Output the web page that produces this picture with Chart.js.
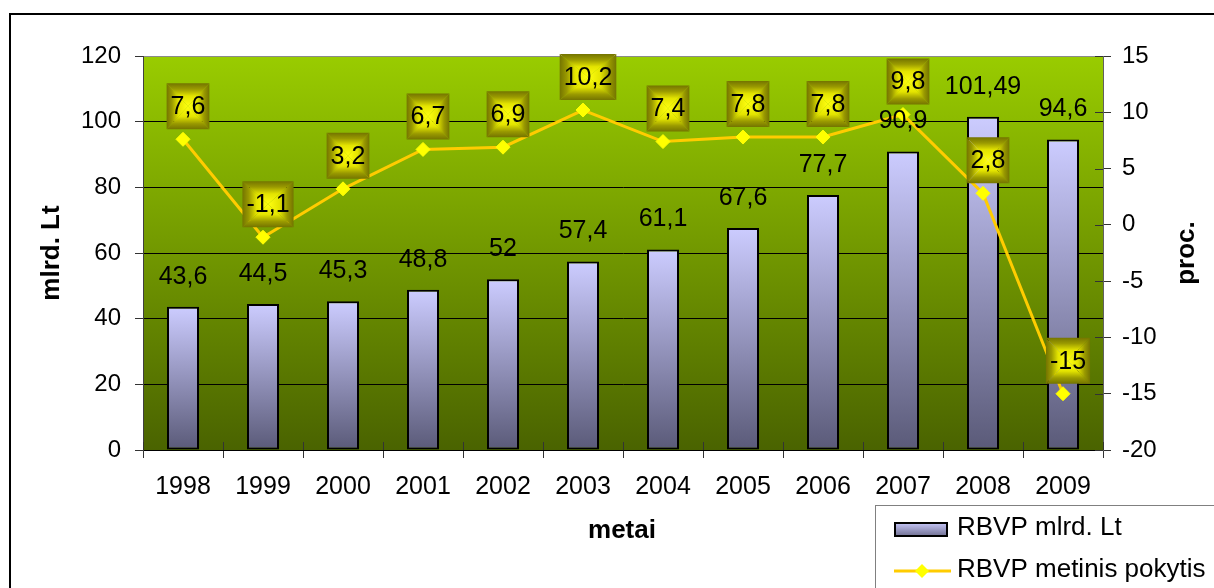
<!DOCTYPE html>
<html>
<head>
<meta charset="utf-8">
<script src="https://cdn.jsdelivr.net/npm/chart.js@4.4.0/dist/chart.umd.min.js"></script>
<style>
html, body { margin: 0; padding: 0; background: #fff; }
#wrap { width: 1214px; height: 588px; position: relative; }
</style>
</head>
<body>
<div id="wrap"><canvas id="gdpChart" width="1214" height="588"></canvas></div>
<script>
// data
const years = ['1998', '1999', '2000', '2001', '2002', '2003', '2004', '2005', '2006', '2007', '2008', '2009'];
const gdpValues = [43.6, 44.5, 45.3, 48.8, 52, 57.4, 61.1, 67.6, 77.7, 90.9, 101.49, 94.6];
const growthValues = [7.6, -1.1, 3.2, 6.7, 6.9, 10.2, 7.4, 7.8, 7.8, 9.8, 2.8, -15];
const leftTicks = [0, 20, 40, 60, 80, 100, 120];
const rightTicks = [-20, -15, -10, -5, 0, 5, 10, 15];

const FONT = '"Liberation Sans", Arial, sans-serif';
Chart.defaults.font.family = FONT;
Chart.defaults.font.size = 24;
Chart.defaults.color = '#000';

const fmt = v => String(v).replace('.', ',');

// lavender bar fill, light at the top of each bar and dark at the base
function barFill(context) {
    const chart = context.chart;
    const y = chart.scales.y;
    if (!chart.chartArea || !y || context.parsed === undefined) return '#9999c0';
    const top = y.getPixelForValue(context.parsed.y);
    const base = y.getPixelForValue(0);
    const g = chart.ctx.createLinearGradient(0, top, 0, base);
    g.addColorStop(0, '#ccccff');
    g.addColorStop(1, '#5a5a78');
    return g;
}

function bevelBox(ctx, x, y, w, h) {
    const cx = x + w / 2, cy = y + h / 2;
    const sides = [
        [[x, y], [x + w, y], [cx, y]],
        [[x + w, y], [x + w, y + h], [x + w, cy]],
        [[x + w, y + h], [x, y + h], [cx, y + h]],
        [[x, y + h], [x, y], [x, cy]]
    ];
    sides.forEach(s => {
        const g = ctx.createLinearGradient(s[2][0], s[2][1], cx, cy);
        g.addColorStop(0, '#747400');
        g.addColorStop(0.25, '#9a9a00');
        g.addColorStop(0.55, '#e4e400');
        g.addColorStop(1, '#ffff10');
        ctx.beginPath();
        ctx.moveTo(s[0][0], s[0][1]);
        ctx.lineTo(s[1][0], s[1][1]);
        ctx.lineTo(cx, cy);
        ctx.closePath();
        ctx.fillStyle = g;
        ctx.fill();
    });
}

const chartDecor = {
    id: 'chartDecor',
    beforeDraw(chart) {
        const { ctx, chartArea: a } = chart;
        const g = ctx.createLinearGradient(0, a.top, 0, a.bottom);
        g.addColorStop(0, '#99cc00');
        g.addColorStop(1, '#4a6300');
        ctx.save();
        ctx.fillStyle = g;
        ctx.fillRect(a.left, a.top, a.right - a.left, a.bottom - a.top);
        ctx.restore();
    },
    afterDatasetsDraw(chart) {
        const ctx = chart.ctx;
        ctx.save();
        ctx.font = '25px ' + FONT;
        ctx.fillStyle = '#000';
        ctx.textAlign = 'center';
        ctx.textBaseline = 'middle';

        // value labels above the bars
        chart.getDatasetMeta(0).data.forEach((bar, i) => {
            ctx.fillText(fmt(gdpValues[i]), bar.x, bar.y - 30);
        });

        // boxed labels above the line points
        chart.getDatasetMeta(1).data.forEach((pt, i) => {
            const text = fmt(growthValues[i]);
            const w = ctx.measureText(text).width + 8;
            const h = 46;
            const cx = pt.x + 5, cy = pt.y - 33;
            bevelBox(ctx, cx - w / 2, cy - h / 2, w, h);
            ctx.fillStyle = '#000';
            ctx.fillText(text, cx, cy + 1);
        });
        ctx.restore();
    },
    afterDraw(chart) {
        const { ctx, chartArea: a, scales } = chart;
        ctx.save();

        // tick halves reaching into the plot
        ctx.strokeStyle = '#333';
        ctx.lineWidth = 1;
        ctx.beginPath();
        for (let i = 0; i <= years.length; i++) {
            const x = Math.round(scales.x.getPixelForValue(i - 0.5)) + 0.5;
            ctx.moveTo(x, a.bottom);
            ctx.lineTo(x, a.bottom - 8);
        }
        rightTicks.forEach(v => {
            const y = Math.round(scales.y2.getPixelForValue(v)) + 0.5;
            ctx.moveTo(a.right, y);
            ctx.lineTo(a.right - 8, y);
        });
        ctx.stroke();

        // axis titles
        ctx.font = 'bold 26px ' + FONT;
        ctx.fillStyle = '#000';
        ctx.textAlign = 'center';
        ctx.textBaseline = 'middle';
        ctx.fillText('metai', 622, 531);
        ctx.save();
        ctx.translate(52, 253);
        ctx.rotate(-Math.PI / 2);
        ctx.fillText('mlrd. Lt', 0, 0);
        ctx.restore();
        ctx.save();
        ctx.translate(1187, 253);
        ctx.rotate(-Math.PI / 2);
        ctx.fillText('proc.', 0, 0);
        ctx.restore();

        // legend box
        const ds = chart.data.datasets;
        ctx.strokeStyle = '#808080';
        ctx.lineWidth = 1;
        ctx.strokeRect(875.5, 505.5, 500, 200);

        const sg = ctx.createLinearGradient(0, 522, 0, 537);
        sg.addColorStop(0, '#ccccff');
        sg.addColorStop(1, '#6a6a8a');
        ctx.fillStyle = sg;
        ctx.fillRect(894, 522, 54, 15);
        ctx.strokeStyle = '#000';
        ctx.lineWidth = 2;
        ctx.strokeRect(895, 523, 52, 13);

        ctx.strokeStyle = '#ffcc00';
        ctx.lineWidth = 3;
        ctx.beginPath();
        ctx.moveTo(894, 571);
        ctx.lineTo(951, 571);
        ctx.stroke();
        ctx.fillStyle = '#ffff00';
        ctx.beginPath();
        ctx.moveTo(922, 564);
        ctx.lineTo(929, 571);
        ctx.lineTo(922, 578);
        ctx.lineTo(915, 571);
        ctx.closePath();
        ctx.fill();

        ctx.font = '26px ' + FONT;
        ctx.fillStyle = '#000';
        ctx.textAlign = 'left';
        ctx.fillText(ds[0].label, 957, 528);
        ctx.fillText(ds[1].label, 957, 570);

        // outer chart frame
        ctx.strokeStyle = '#000';
        ctx.lineWidth = 2;
        ctx.strokeRect(10, 14, 1400, 800);
        ctx.restore();
    }
};

const ctx = document.getElementById('gdpChart').getContext('2d');
new Chart(ctx, {
    data: {
        labels: years,
        datasets: [{
            type: 'bar',
            label: 'RBVP mlrd. Lt',
            data: gdpValues,
            yAxisID: 'y',
            backgroundColor: barFill,
            borderColor: '#000',
            borderWidth: 2,
            borderSkipped: false,
            categoryPercentage: 1,
            barPercentage: 0.4,
            order: 2
        }, {
            type: 'line',
            label: 'RBVP metinis pokytis',
            data: growthValues,
            yAxisID: 'y2',
            borderColor: '#ffcc00',
            borderWidth: 3,
            tension: 0,
            pointStyle: 'rectRot',
            pointRadius: 7,
            pointBackgroundColor: '#ffff00',
            pointBorderColor: '#ffff00',
            pointBorderWidth: 1,
            order: 1
        }]
    },
    options: {
        responsive: false,
        animation: false,
        layout: { padding: { top: 56, left: 0, right: 0, bottom: 0 } },
        plugins: {
            legend: { display: false },
            tooltip: { enabled: false }
        },
        scales: {
            x: {
                afterFit: s => { s.height = 138; },
                grid: {
                    drawOnChartArea: false,
                    tickLength: 8,
                    tickColor: '#333'
                },
                border: { color: '#000', width: 1 },
                ticks: { padding: 14, maxRotation: 0, font: { size: 25 } }
            },
            y: {
                position: 'left',
                min: leftTicks[0],
                max: leftTicks[leftTicks.length - 1],
                afterFit: s => { s.width = 143; },
                afterBuildTicks: s => { s.ticks = leftTicks.map(v => ({ value: v })); },
                grid: {
                    color: c => (c.tick && c.tick.value === 120 ? '#8a8a8a' : '#000'),
                    tickLength: 8,
                    tickColor: '#333'
                },
                border: { color: '#404040', width: 1 },
                ticks: { padding: 14 }
            },
            y2: {
                position: 'right',
                min: rightTicks[0],
                max: rightTicks[rightTicks.length - 1],
                afterFit: s => { s.width = 111; },
                afterBuildTicks: s => { s.ticks = rightTicks.map(v => ({ value: v })); },
                grid: {
                    drawOnChartArea: false,
                    tickLength: 8,
                    tickColor: '#333'
                },
                border: { color: '#606060', width: 1 },
                ticks: { padding: 11 }
            }
        }
    },
    plugins: [chartDecor]
});
</script>
</body>
</html>
